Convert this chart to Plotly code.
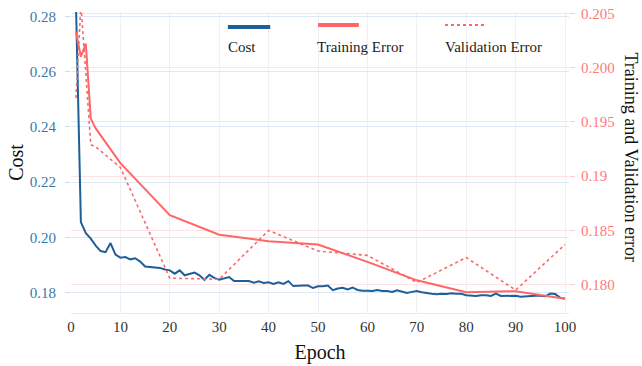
import plotly.graph_objects as go

# ---- data ----
cost_epochs = list(range(1, 101))
cost_values = [
    0.285, 0.2055, 0.2015, 0.1995, 0.1970, 0.1950, 0.1946, 0.1979, 0.1937, 0.1926,
    0.1928, 0.1920, 0.1924, 0.1912, 0.1894, 0.1892, 0.1889, 0.1889, 0.1883, 0.1880,
    0.1868, 0.1880, 0.1862, 0.1866, 0.1872, 0.1862, 0.1846, 0.1864, 0.1853, 0.1846,
    0.1850, 0.1856, 0.1841, 0.1841, 0.1841, 0.1841, 0.1835, 0.1840, 0.1834, 0.1837,
    0.1831, 0.1837, 0.1831, 0.1841, 0.1823, 0.1825, 0.1825, 0.1825, 0.1816, 0.1822,
    0.1822, 0.1825, 0.1808, 0.1814, 0.1817, 0.1811, 0.1818, 0.1809, 0.1806, 0.1806,
    0.1805, 0.1809, 0.1805, 0.1805, 0.1802, 0.1808, 0.1804, 0.1798, 0.1802, 0.1805,
    0.1801, 0.1797, 0.1795, 0.1793, 0.1795, 0.1794, 0.1797, 0.1795, 0.1795, 0.1790,
    0.1788, 0.1787, 0.1790, 0.1790, 0.1787, 0.1796, 0.1787, 0.1788, 0.1788, 0.1788,
    0.1784, 0.1786, 0.1786, 0.1788, 0.1788, 0.1786, 0.1796, 0.1794, 0.1781, 0.1777,
]
error_epochs = [1, 2, 3, 4, 5, 10, 20, 30, 40, 50, 60, 70, 80, 90, 100]
training_error = [0.2033, 0.2010, 0.2022, 0.1953, 0.1944, 0.1912, 0.1864, 0.1846,
                  0.1840, 0.1837, 0.1821, 0.1804, 0.1793, 0.1794, 0.1787]
validation_error = [0.1972, 0.2058, 0.1995, 0.1929, 0.1927, 0.1908, 0.1806, 0.1805,
                    0.1850, 0.1831, 0.1827, 0.1802, 0.1825, 0.1795, 0.1837]

x_ticks = [0, 10, 20, 30, 40, 50, 60, 70, 80, 90, 100]
cost_ticks = [0.18, 0.20, 0.22, 0.24, 0.26, 0.28]
err_ticks = [0.180, 0.185, 0.19, 0.195, 0.200, 0.205]
err_tick_text = ["0.180", "0.185", "0.19", "0.195", "0.200", "0.205"]

BLUE = "#1f5f99"
BLUE_TXT = "#3a78b0"
RED = "#ff6666"
RED_TXT = "#ff7a7a"
FONT = "Liberation Serif"

fig = go.Figure()
fig.add_trace(go.Scatter(x=cost_epochs, y=cost_values, mode="lines", name="Cost",
                         line=dict(color=BLUE, width=2), yaxis="y", showlegend=False))
fig.add_trace(go.Scatter(x=error_epochs, y=training_error, mode="lines", name="Training Error",
                         line=dict(color=RED, width=2), yaxis="y2", showlegend=False))
fig.add_trace(go.Scatter(x=error_epochs, y=validation_error, mode="lines", name="Validation Error",
                         line=dict(color=RED, width=1.6, dash="dot"), yaxis="y2", showlegend=False))

fig.update_layout(
    width=642, height=366,
    margin=dict(l=71, r=73, t=12, b=53),
    paper_bgcolor="white", plot_bgcolor="white",
    font=dict(family=FONT, size=15, color="#222"),
    xaxis=dict(range=[0, 100.8], tickvals=x_ticks, showgrid=True, gridcolor="#eef0f5",
               zeroline=False, showline=True, linecolor="#e8ebf0", ticks="",
               tickfont=dict(size=15, color="#333"), automargin=False,
               title=dict(text="Epoch", font=dict(size=20, color="#111"), standoff=10)),
    yaxis=dict(range=[0.17254, 0.2817], tickvals=cost_ticks, tickformat=".2f",
               showgrid=True, gridcolor="#dfe9f4", zeroline=False,
               ticks="outside", ticklen=5, tickcolor="#c9dbee", automargin=False,
               tickfont=dict(size=15, color=BLUE_TXT), ticklabelstandoff=6,
               title=dict(text="Cost", font=dict(size=20, color="#111"), standoff=0)),
    yaxis2=dict(range=[0.17739, 0.20512], overlaying="y", side="right",
                tickvals=err_ticks, ticktext=err_tick_text, automargin=False,
                showgrid=True, gridcolor="#fde3e3", zeroline=False,
                ticks="outside", ticklen=5, tickcolor="#fbcaca",
                tickfont=dict(size=15, color=RED_TXT), ticklabelstandoff=3),
)

# custom legend (line sample above label)
legend_items = [
    ("Cost", BLUE, "solid", 4, 0.315, 0.400, 0.950, 0.311),
    ("Training Error", RED, "solid", 4, 0.496, 0.578, 0.957, 0.490),
    ("Validation Error", RED, "dot", 2, 0.751, 0.831, 0.957, 0.747),
]
for label, col, dash, w, x0, x1, ly, tx in legend_items:
    fig.add_shape(type="line", xref="paper", yref="paper", x0=x0, x1=x1, y0=ly, y1=ly,
                  line=dict(color=col, width=w, dash=dash))
    fig.add_annotation(xref="paper", yref="paper", x=tx, y=0.884, text=label,
                       showarrow=False, xanchor="left", yanchor="middle",
                       font=dict(family=FONT, size=15, color="#222"))

fig.add_annotation(xref="paper", yref="paper", x=1.1245, y=0.52,
                   text="Training and Validation error", textangle=90,
                   showarrow=False, xanchor="center", yanchor="middle",
                   font=dict(family=FONT, size=18, color="#111"))

fig.write_html("out.html", config={"displayModeBar": False},
               post_script="document.body.style.margin='0';")
